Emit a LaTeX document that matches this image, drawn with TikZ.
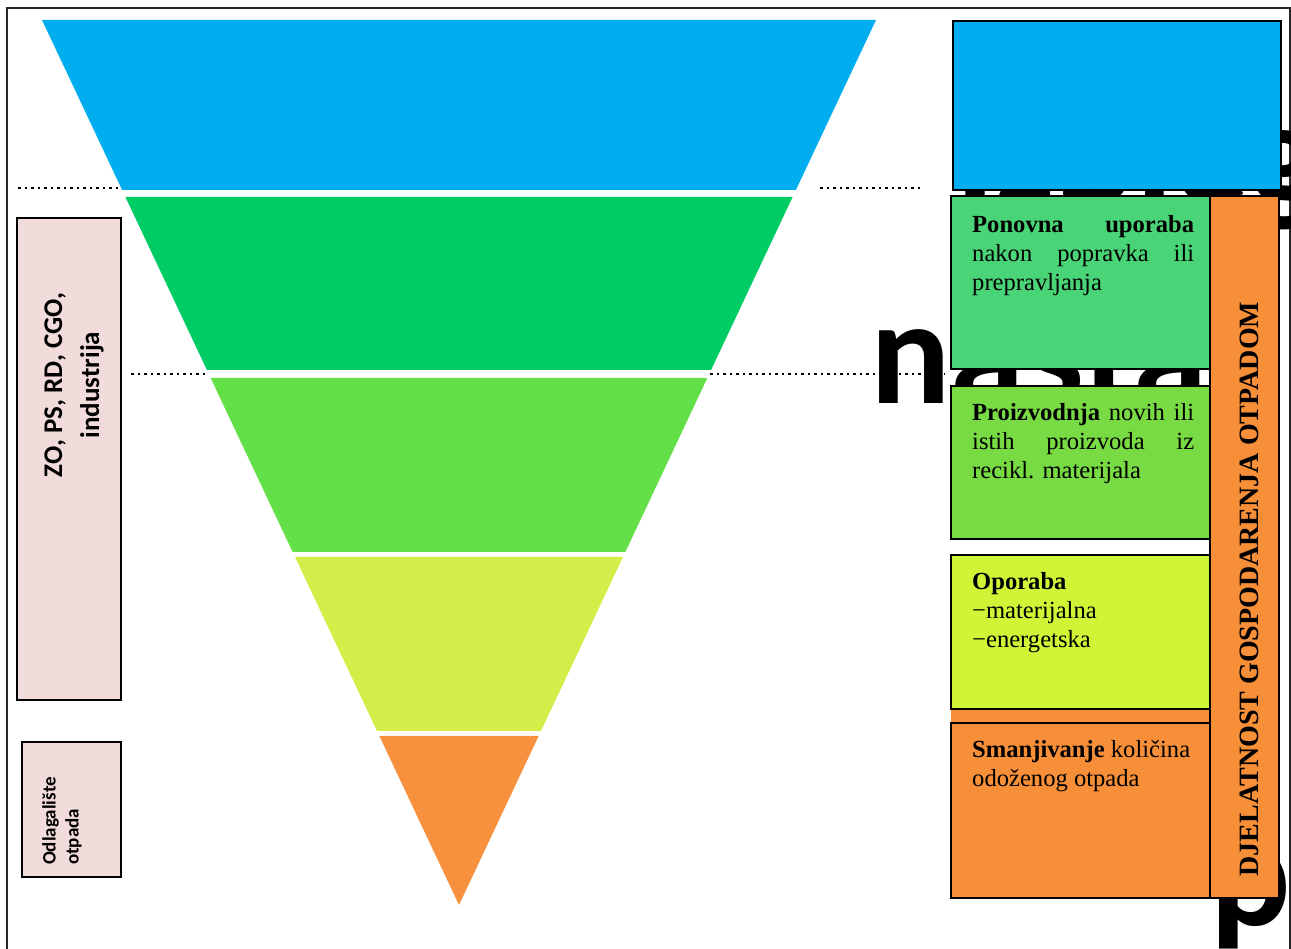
\documentclass[tikz,border=0pt]{standalone}
\usepackage{fontspec}
\setmainfont{Liberation Serif}
\newfontfamily\calibri{Carlito}
\usetikzlibrary{calc}
\definecolor{pyrblue}{RGB}{0,174,239}
\definecolor{pyrgreen}{RGB}{0,204,102}
\definecolor{pyrlime}{RGB}{99,224,72}
\definecolor{pyryellow}{RGB}{212,237,72}
\definecolor{pyrorange}{RGB}{247,145,62}
\definecolor{boxgreen}{RGB}{74,212,120}
\definecolor{boxlime}{RGB}{120,219,68}
\definecolor{boxyellow}{RGB}{208,245,55}
\definecolor{boxorange}{RGB}{247,143,57}
\definecolor{boxpink}{RGB}{242,220,219}
\hyphenpenalty=10000
\exhyphenpenalty=10000
\tolerance=10000
\pretolerance=10000
\hbadness=10000
% one slice of the pyramid, between two heights
\newcommand{\pyrpiece}[3]{%
  \fill[#3] ($(tl)!{(#1-20)/885}!(apex)$) -- ($(tr)!{(#1-20)/885}!(apex)$)
    -- ($(tr)!{(#2-20)/885}!(apex)$) -- ($(tl)!{(#2-20)/885}!(apex)$) -- cycle;}

\begin{document}
\begin{tikzpicture}[x=1pt,y=-1pt,
  cell/.style={draw=black,line width=2.5pt},
  sidebox/.style={draw=black,line width=2.5pt,fill=boxpink},
  boxtext/.style={anchor=north west,inner sep=0pt,text width=222pt,align=justify,
    font=\fontsize{24.6}{29}\selectfont},
  bigtext/.style={anchor=base west,inner sep=0pt,
    font=\calibri\bfseries\fontsize{150}{180}\selectfont},
  level/.style={black,line width=2.5pt,dash pattern=on 2.5pt off 4pt}]
\useasboundingbox (0,0) rectangle (1291,949);
\clip (0,0) rectangle (1291,949);
\draw[line width=1.5pt,black!85] (7,8) rectangle (1290,970);
% oversized text, mostly hidden behind the boxes
\node[bigtext] (bigone) at (955,205) {Izbjegavanje};
\node[bigtext] (bigtwo) at (870,404) {nastanka};
\node[bigtext] (bigthree) at (1210,925) {p};
% pyramid
\coordinate (tl) at (42,20);
\coordinate (tr) at (876,20);
\coordinate (apex) at (459,905);
\pyrpiece{20}{190}{pyrblue}
\pyrpiece{197}{370}{pyrgreen}
\pyrpiece{378}{552}{pyrlime}
\pyrpiece{557}{731}{pyryellow}
\pyrpiece{736}{905}{pyrorange}
% dotted level lines
\draw[level] (18,188) -- (118,188);
\draw[level] (820,188) -- (922,188);
\draw[level] (131,374) -- (205,374);
\draw[level] (710,374) -- (945,374);
% left side
\draw[sidebox] (17,218) rectangle (121,700);
\draw[sidebox] (22,742) rectangle (121,877);
\node[rotate=90,align=center,font=\calibri\bfseries\fontsize{27}{37}\selectfont]
  (actors) at (74,385) {ZO, PS, RD, CGO,\\industrija};
\node[rotate=90,align=left,font=\calibri\bfseries\fontsize{19}{23}\selectfont]
  (landfill) at (62,821) {Odlagalište\\otpada};
% right side
\draw[cell,fill=pyrblue] (953,21) rectangle (1281,190);
\fill[boxorange] (951,709) rectangle (1210,723);
\draw[cell,fill=boxgreen] (951,196) rectangle (1210,369);
\draw[cell,fill=boxlime] (951,386) rectangle (1210,539);
\draw[cell,fill=boxyellow] (951,555) rectangle (1210,709);
\draw[cell,fill=boxorange] (951,723) rectangle (1210,898);
\draw[cell,fill=boxorange] (1210,196) rectangle (1279,898);
\node[boxtext] (reuse) at (972,215) {\textbf{Ponovna uporaba}\linebreak nakon popravka ili\linebreak prepravljanja};
\node[boxtext] (recycle) at (972,403) {\textbf{Proizvodnja} novih ili\linebreak istih proizvoda iz\linebreak recikl. materijala};
\node[boxtext] (recovery) at (972,572) {\textbf{Oporaba}\\−materijalna\\−energetska};
\node[boxtext] (reduce) at (972,740) {\textbf{Smanjivanje} količina\\odoženog otpada};
\node[rotate=90,font=\bfseries\fontsize{28}{30}\selectfont]
  (activity) at (1249,589) {DJELATNOST GOSPODARENJA OTPADOM};
\end{tikzpicture}
\end{document}
